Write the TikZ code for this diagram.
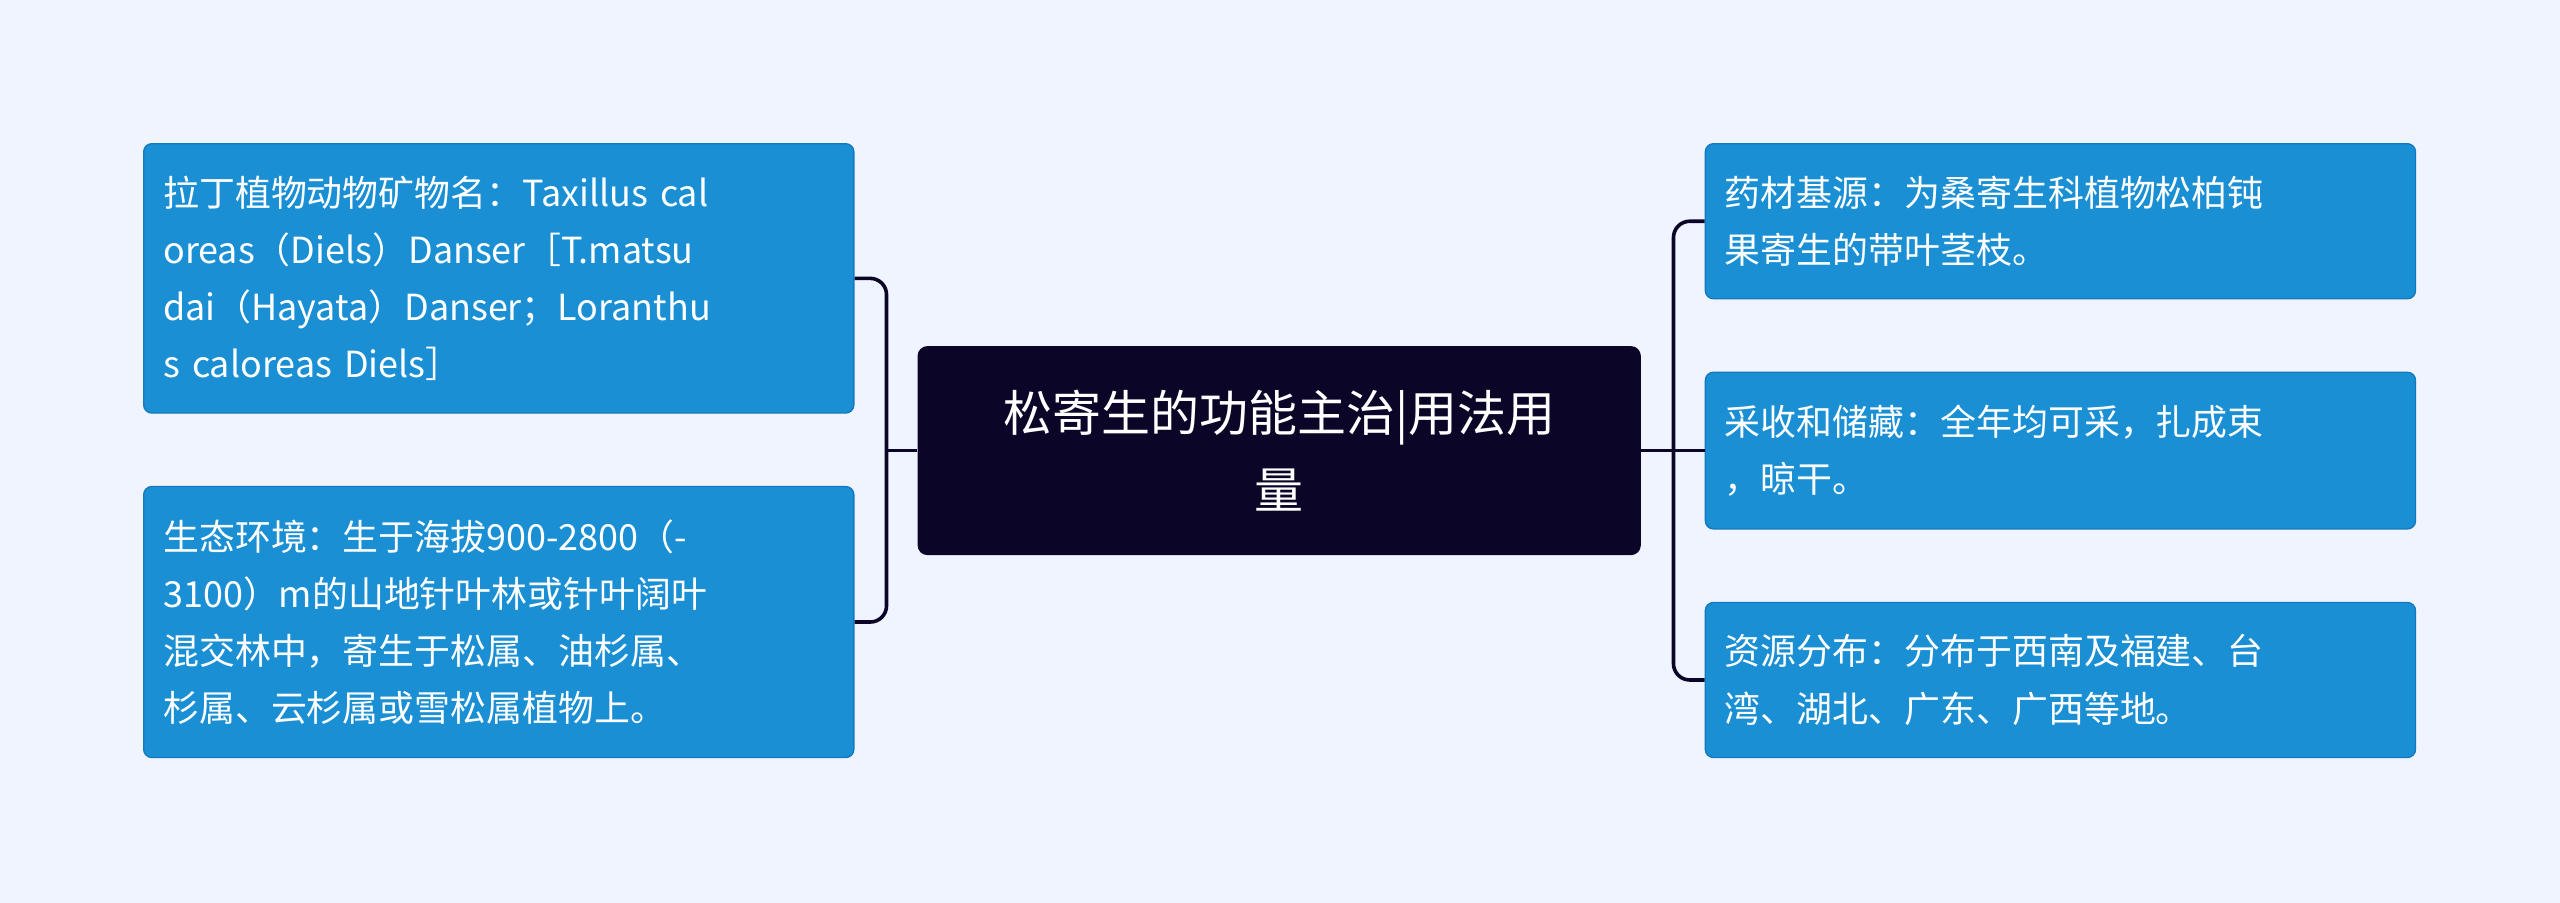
\documentclass[tikz,border=0pt]{standalone}
\usepackage{fontspec}
\setmainfont{Noto Sans CJK SC}
\definecolor{bg}{RGB}{239,244,254}
\definecolor{leafc}{RGB}{26,143,212}
\definecolor{leafb}{RGB}{20,120,190}
\definecolor{dark}{RGB}{11,5,40}
\begin{document}
\begin{tikzpicture}[x=1pt,y=-1pt,
  leaf/.style={draw=leafb, line width=0.8pt, fill=leafc, rounded corners=5pt, text=white, align=left, inner xsep=12pt, font=\fontsize{22}{35}\selectfont, minimum width=435pt, text width=411pt},
  link/.style={draw=dark, line width=2.2pt, rounded corners=10pt}]
\fill[bg] (0,0) rectangle (1568,553);
\node[fill=dark, rounded corners=6pt, minimum width=443pt, minimum height=128pt, text width=420pt, align=center, text=white, font=\fontsize{30}{47}\selectfont] (c) at (783.5,276) {松寄生的功能主治|用法用\\量};
\node[leaf, minimum height=165pt] (l1) at (305.5,170.5) {拉丁植物动物矿物名：Taxillus cal\\oreas（Diels）Danser［T.matsu\\dai（Hayata）Danser；Loranthu\\s caloreas Diels］};
\node[leaf, minimum height=166pt] (l2) at (305.5,381) {生态环境：生于海拔900-2800（-\\3100）m的山地针叶林或针叶阔叶\\混交林中，寄生于松属、油杉属、\\杉属、云杉属或雪松属植物上。};
\node[leaf, minimum height=95pt] (r1) at (1262,135.5) {药材基源：为桑寄生科植物松柏钝\\果寄生的带叶茎枝。};
\node[leaf, minimum height=96pt] (r2) at (1262,276) {采收和储藏：全年均可采，扎成束\\，晾干。};
\node[leaf, minimum height=95pt] (r3) at (1262,416.5) {资源分布：分布于西南及福建、台\\湾、湖北、广东、广西等地。};
\coordinate (lj) at (543,276);
\coordinate (rj) at (1025,276);
\draw[link] (c.west) -- (lj);
\draw[link] (l1.east) -- (lj |- l1.east) -- (lj |- l2.east) -- (l2.east);
\draw[link] (c.east) -- (rj);
\draw[link] (r1.west) -- (rj |- r1.west) -- (rj |- r3.west) -- (r3.west);
\draw[link] (rj) -- (r2.west);
\end{tikzpicture}
\end{document}
